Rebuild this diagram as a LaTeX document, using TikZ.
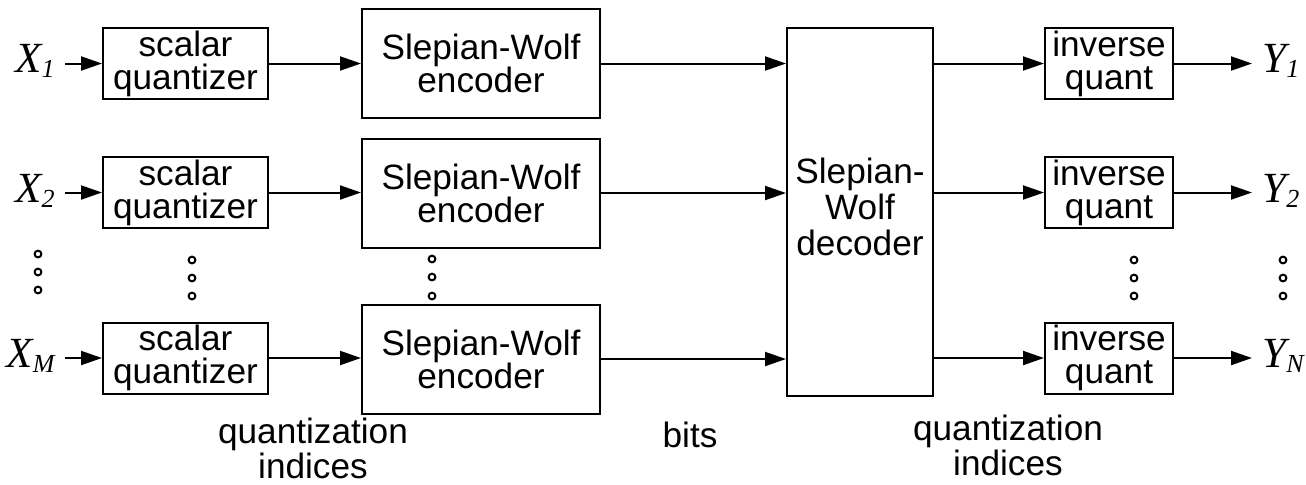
\documentclass[tikz,border=0pt]{standalone}
\usepackage{fontspec}
\setmainfont{Liberation Sans}
\newfontfamily\tms{Liberation Serif}
\usetikzlibrary{arrows.meta}
\tikzset{
  blk/.style={draw, line width=1pt, inner sep=0pt, align=center,
    font=\fontsize{17.6}{16.5}\selectfont},
  sqbox/.style={blk, minimum width=82.5pt, minimum height=35.5pt},
  swbox/.style={blk, minimum width=119pt, minimum height=54.5pt},
  iqbox/.style={blk, minimum width=64pt, minimum height=35.5pt},
  sig/.style={line width=1pt, -{Triangle[length=10.5pt,width=7pt]}},
  var/.style={inner xsep=5pt, inner ysep=0pt, font=\tms\itshape\fontsize{21.5}{20}\selectfont},
  lbl/.style={inner sep=0pt, align=center, font=\fontsize{17.6}{15.5}\selectfont},
  dot/.style={line width=1pt}
}
\newcommand{\sbx}[1]{\raisebox{-2.6pt}{\fontsize{13}{13}\selectfont #1}}
\begin{document}
\begin{tikzpicture}[x=0.5pt,y=-0.5pt]
\useasboundingbox (0,0) rectangle (1306,484);
% scalar quantizers
\node[sqbox] (sq1) at (185.5,63.5) {scalar\\quantizer};
\node[sqbox] (sq2) at (185.5,192.5) {scalar\\quantizer};
\node[sqbox] (sqM) at (185.5,358) {scalar\\quantizer};
% encoders
\node[swbox] (sw1) at (481,63.5) {Slepian-Wolf\\encoder};
\node[swbox] (sw2) at (481,193) {Slepian-Wolf\\encoder};
\node[swbox] (swM) at (481,359) {Slepian-Wolf\\encoder};
% decoder
\node[draw, line width=1pt, inner sep=0pt, minimum width=73pt, minimum height=184pt, font=\fontsize{17.6}{17.5}\selectfont] (dec) at (860,212) {\raisebox{3pt}{\begin{tabular}{@{}c@{}}Slepian-\\Wolf\\decoder\end{tabular}}};
% inverse quant
\node[iqbox] (iq1) at (1109,63.5) {inverse\\quant};
\node[iqbox] (iq2) at (1109,192.5) {inverse\\quant};
\node[iqbox] (iqN) at (1109,358) {inverse\\quant};
% inputs
\node[var, anchor=base east] (x1) at (65,72) {X\sbx{1}};
\node[var, anchor=base east] (x2) at (65,202) {X\sbx{2}};
\node[var, anchor=base east] (xM) at (65,367) {X\sbx{M}};
% outputs
\node[var, anchor=base west] (y1) at (1252,72) {Y\sbx{1}};
\node[var, anchor=base west] (y2) at (1252,202) {Y\sbx{2}};
\node[var, anchor=base west] (yN) at (1252,367) {Y\sbx{N}};
% arrows
\foreach \a/\b/\c/\d/\e in {x1/sq1/sw1/iq1/y1, x2/sq2/sw2/iq2/y2, xM/sqM/swM/iqN/yN}{
  \draw[sig] (\a.east |- \b.west) -- (\b.west);
  \draw[sig] (\b.east) -- (\c.west |- \b.east);
  \draw[sig] (\c.east) -- (dec.west |- \c.east);
  \draw[sig] (dec.east |- \d.west) -- (\d.west);
  \draw[sig] (\d.east) -- (\e.west |- \d.east);
}
% dots
\foreach \x/\ya/\yb/\yc in {38/254/272/290, 192/260/278/296, 432/259/277/296, 1134/260/278/296, 1283/260/278/296}{
  \draw[dot] (\x,\ya) circle[radius=1.7pt];
  \draw[dot] (\x,\yb) circle[radius=1.7pt];
  \draw[dot] (\x,\yc) circle[radius=1.7pt];
}
% bottom labels
\node[lbl, anchor=base] (q1) at (313,478) {quantization\\indices};
\node[lbl, anchor=base] (bits) at (690,447) {bits};
\node[lbl, anchor=base] (q2) at (1008,475) {quantization\\indices};
\end{tikzpicture}
\end{document}
